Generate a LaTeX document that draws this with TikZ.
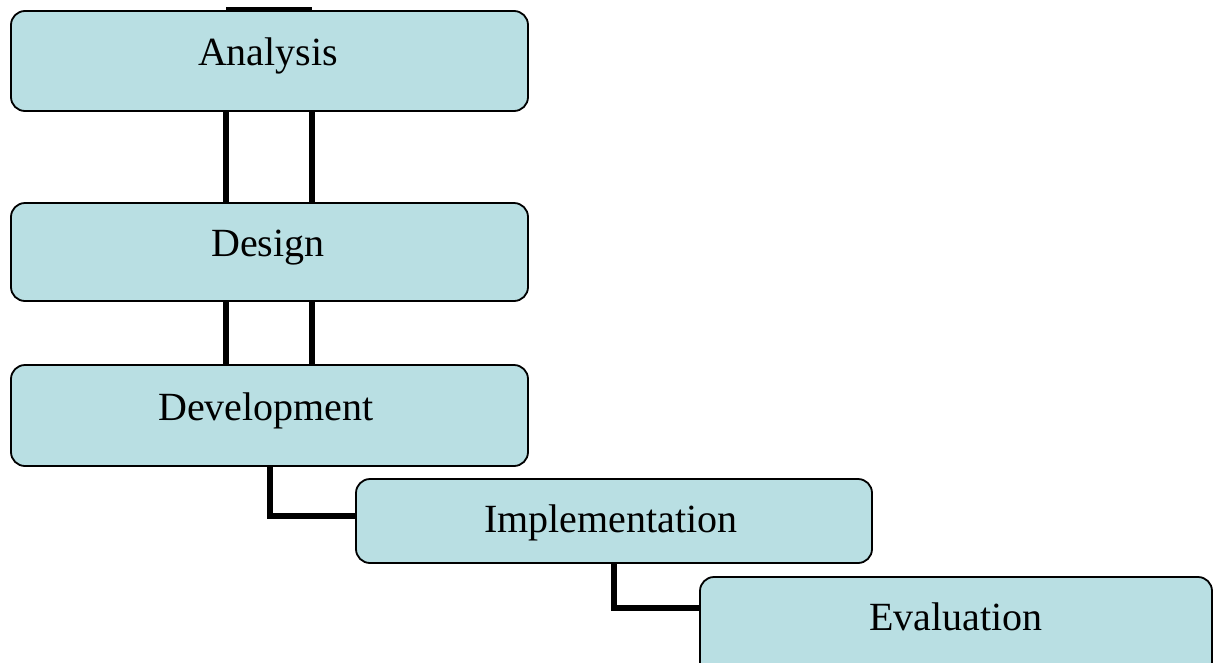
\documentclass[tikz,border=0pt]{standalone}
\usepackage{fontspec}
\setmainfont{Liberation Serif}
\definecolor{boxfill}{RGB}{185,223,227}
\tikzset{
  box/.style={draw=black, line width=1.8pt, fill=boxfill, rounded corners=14pt, inner sep=0pt},
  lbl/.style={anchor=base, inner sep=0pt, font=\fontsize{40}{48}\selectfont},
  conn/.style={draw=black, line width=5.6pt}
}
\begin{document}
\begin{tikzpicture}[x=1pt,y=-1pt]
\useasboundingbox (0,0) rectangle (1213,662);
\clip (0,0) rectangle (1213,662);
% connector guide coordinates
\coordinate (l1) at (226,0);
\coordinate (l2) at (312,0);
\coordinate (top) at (0,10);
\coordinate (bot) at (0,415);
\coordinate (c1) at (270,516);
\coordinate (c2) at (614,608);
% connectors (behind boxes)
\draw[conn] (top -| l1) -- (top -| l2);
\draw[conn] (top -| l1) -- (bot -| l1);
\draw[conn] (top -| l2) -- (bot -| l2);
% boxes
\node[box, minimum width=517pt, minimum height=100pt] (an) at (269.5,61) {};
\node[box, minimum width=517pt, minimum height=98pt] (de) at (269.5,252) {};
\node[box, minimum width=517pt, minimum height=101pt] (dv) at (269.5,415.5) {};
\node[box, minimum width=516pt, minimum height=84pt] (im) at (614,521) {};
\node[box, minimum width=512pt, minimum height=100pt] (ev) at (956,627) {};
% elbow connectors
\draw[conn] (dv.south -| c1) -- (c1) -- (c1 -| im.west);
\draw[conn] (im.south -| c2) -- (c2) -- (c2 -| ev.west);
% labels
\node[lbl] (tan) at (268,65) {Analysis};
\node[lbl] (tde) at (268,256) {Design};
\node[lbl] (tdv) at (266,420) {Development};
\node[lbl] (tim) at (611,532) {Implementation};
\node[lbl] (tev) at (956,630) {Evaluation};
\end{tikzpicture}
\end{document}
